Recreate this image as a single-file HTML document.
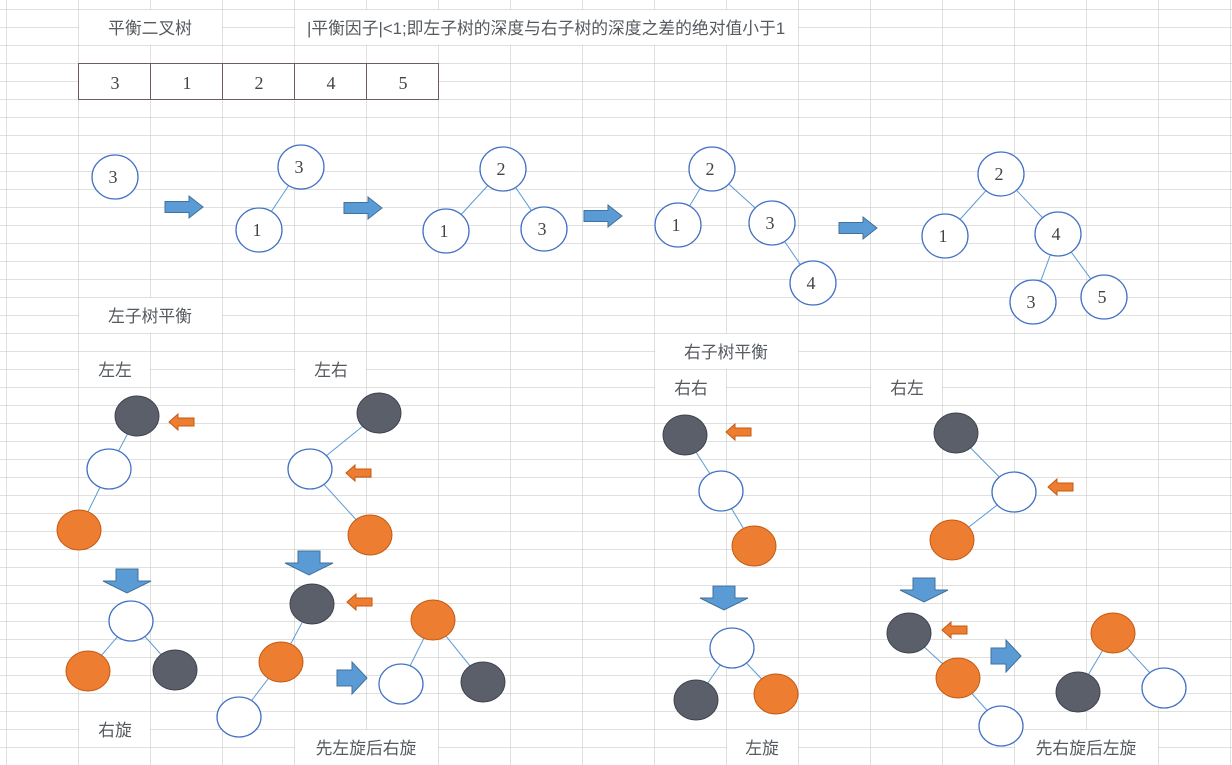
<!DOCTYPE html>
<html><head><meta charset="utf-8"><style>
html,body{margin:0;padding:0;background:#fff;}
svg{display:block;}
text{font-family:"Liberation Sans","Noto Sans CJK SC",sans-serif;fill:#555a60;font-size:16.8px;}
.n{font-family:"Liberation Serif","Noto Serif CJK SC",serif;font-size:18px;fill:#444;}
</style></head><body>
<svg width="1232" height="765" viewBox="0 0 1232 765" xmlns="http://www.w3.org/2000/svg">
<defs>
<pattern id="g" x="6.5" y="9.5" width="72" height="18" patternUnits="userSpaceOnUse">
<path d="M0 0H72M0 0V18" stroke="#c0c0c0" stroke-width="1" fill="none"/>
</pattern>
<g id="ra"><polygon points="0,-5.5 24,-5.5 24,-11 38,0 24,11 24,5.5 0,5.5" fill="#5b9bd5" stroke="#41719c" stroke-width="1"/></g>
<g id="da"><polygon points="-11,0 11,0 11,12 24,12 0,24 -24,12 -11,12" fill="#5b9bd5" stroke="#41719c" stroke-width="1"/></g>
<g id="oa"><polygon points="0,0 9,-8 9,-4 25,-4 25,4 9,4 9,8" fill="#ed7d31" stroke="#c55a11" stroke-width="1"/></g>
</defs>
<rect width="1232" height="765" fill="url(#g)"/>
<g fill="#fff">
<rect x="79" y="10" width="143" height="35"/>
<rect x="295" y="10" width="503" height="35"/>
<rect x="79" y="298" width="143" height="35"/>
<rect x="79" y="352" width="71" height="35"/>
<rect x="295" y="352" width="71" height="35"/>
<rect x="655" y="334" width="143" height="35"/>
<rect x="655" y="370" width="71" height="35"/>
<rect x="871" y="370" width="71" height="35"/>
<rect x="79" y="712" width="71" height="35"/>
<rect x="295" y="730" width="143" height="35"/>
<rect x="727" y="730" width="71" height="35"/>
<rect x="1015" y="730" width="143" height="35"/>
</g>
<text x="150" y="34" text-anchor="middle">平衡二叉树</text>
<text x="307" y="34">|平衡因子|&lt;1;即左子树的深度与右子树的深度之差的绝对值小于1</text>
<text x="150" y="322" text-anchor="middle">左子树平衡</text>
<text x="115" y="376" text-anchor="middle">左左</text>
<text x="331" y="376" text-anchor="middle">左右</text>
<text x="726" y="358" text-anchor="middle">右子树平衡</text>
<text x="691" y="394" text-anchor="middle">右右</text>
<text x="907" y="394" text-anchor="middle">右左</text>
<text x="115" y="736" text-anchor="middle">右旋</text>
<text x="366" y="754" text-anchor="middle">先左旋后右旋</text>
<text x="762" y="754" text-anchor="middle">左旋</text>
<text x="1086" y="754" text-anchor="middle">先右旋后左旋</text>
<rect x="78.5" y="63.5" width="360" height="36" fill="#fff" stroke="#6b5e5a"/>
<path d="M150.5 63.5V99.5M222.5 63.5V99.5M294.5 63.5V99.5M366.5 63.5V99.5" stroke="#6b5e5a"/>
<text class="n" x="115" y="89" text-anchor="middle">3</text>
<text class="n" x="187" y="89" text-anchor="middle">1</text>
<text class="n" x="259" y="89" text-anchor="middle">2</text>
<text class="n" x="331" y="89" text-anchor="middle">4</text>
<text class="n" x="403" y="89" text-anchor="middle">5</text>
<g stroke="#5b9bd5" stroke-width="1">
<line x1="301" y1="167" x2="259" y2="230"/>
<line x1="503" y1="169" x2="446" y2="231"/><line x1="503" y1="169" x2="544" y2="229"/>
<line x1="712" y1="169" x2="678" y2="225"/><line x1="712" y1="169" x2="772" y2="223"/><line x1="772" y1="223" x2="813" y2="283"/>
<line x1="1001" y1="174" x2="945" y2="236"/><line x1="1001" y1="174" x2="1058" y2="234"/><line x1="1058" y1="234" x2="1033" y2="302"/><line x1="1058" y1="234" x2="1104" y2="297"/>
<line x1="137" y1="416" x2="109" y2="469"/><line x1="109" y1="469" x2="79" y2="530"/>
<line x1="131" y1="621" x2="88" y2="671"/><line x1="131" y1="621" x2="175" y2="670"/>
<line x1="379" y1="413" x2="310" y2="469"/><line x1="310" y1="469" x2="370" y2="535"/>
<line x1="312" y1="604" x2="281" y2="662"/><line x1="281" y1="662" x2="239" y2="717"/>
<line x1="433" y1="620" x2="401" y2="684"/><line x1="433" y1="620" x2="483" y2="682"/>
<line x1="685" y1="435" x2="721" y2="491"/><line x1="721" y1="491" x2="754" y2="546"/>
<line x1="732" y1="648" x2="696" y2="700"/><line x1="732" y1="648" x2="776" y2="694"/>
<line x1="956" y1="433" x2="1014" y2="492"/><line x1="1014" y1="492" x2="952" y2="540"/>
<line x1="909" y1="633" x2="958" y2="678"/><line x1="958" y1="678" x2="1001" y2="726"/>
<line x1="1113" y1="633" x2="1078" y2="692"/><line x1="1113" y1="633" x2="1164" y2="688"/>
</g>
<g fill="#fff" stroke="#4472c4" stroke-width="1.3">
<ellipse cx="115" cy="177" rx="23" ry="22"/>
<ellipse cx="301" cy="167" rx="23" ry="22"/><ellipse cx="259" cy="230" rx="23" ry="22"/>
<ellipse cx="503" cy="169" rx="23" ry="22"/><ellipse cx="446" cy="231" rx="23" ry="22"/><ellipse cx="544" cy="229" rx="23" ry="22"/>
<ellipse cx="712" cy="169" rx="23" ry="22"/><ellipse cx="678" cy="225" rx="23" ry="22"/><ellipse cx="772" cy="223" rx="23" ry="22"/><ellipse cx="813" cy="283" rx="23" ry="22"/>
<ellipse cx="1001" cy="174" rx="23" ry="22"/><ellipse cx="945" cy="236" rx="23" ry="22"/><ellipse cx="1058" cy="234" rx="23" ry="22"/><ellipse cx="1033" cy="302" rx="23" ry="22"/><ellipse cx="1104" cy="297" rx="23" ry="22"/>
</g>
<text class="n" x="113" y="183" text-anchor="middle">3</text>
<text class="n" x="299" y="173" text-anchor="middle">3</text><text class="n" x="257" y="236" text-anchor="middle">1</text>
<text class="n" x="501" y="175" text-anchor="middle">2</text><text class="n" x="444" y="237" text-anchor="middle">1</text><text class="n" x="542" y="235" text-anchor="middle">3</text>
<text class="n" x="710" y="175" text-anchor="middle">2</text><text class="n" x="676" y="231" text-anchor="middle">1</text><text class="n" x="770" y="229" text-anchor="middle">3</text><text class="n" x="811" y="289" text-anchor="middle">4</text>
<text class="n" x="999" y="180" text-anchor="middle">2</text><text class="n" x="943" y="242" text-anchor="middle">1</text><text class="n" x="1056" y="240" text-anchor="middle">4</text><text class="n" x="1031" y="308" text-anchor="middle">3</text><text class="n" x="1102" y="303" text-anchor="middle">5</text>
<use href="#ra" x="165" y="207"/><use href="#ra" x="344" y="208"/><use href="#ra" x="584" y="216"/><use href="#ra" x="839" y="228"/>
<g fill="#5a5f69" stroke="#3f4350" stroke-width="1">
<ellipse cx="137" cy="416" rx="22" ry="20"/><ellipse cx="175" cy="670" rx="22" ry="20"/>
<ellipse cx="379" cy="413" rx="22" ry="20"/><ellipse cx="312" cy="604" rx="22" ry="20"/><ellipse cx="483" cy="682" rx="22" ry="20"/>
<ellipse cx="685" cy="435" rx="22" ry="20"/><ellipse cx="696" cy="700" rx="22" ry="20"/>
<ellipse cx="956" cy="433" rx="22" ry="20"/><ellipse cx="909" cy="633" rx="22" ry="20"/><ellipse cx="1078" cy="692" rx="22" ry="20"/>
</g>
<g fill="#ed7d31" stroke="#c55a11" stroke-width="1">
<ellipse cx="79" cy="530" rx="22" ry="20"/><ellipse cx="88" cy="671" rx="22" ry="20"/>
<ellipse cx="370" cy="535" rx="22" ry="20"/><ellipse cx="281" cy="662" rx="22" ry="20"/><ellipse cx="433" cy="620" rx="22" ry="20"/>
<ellipse cx="754" cy="546" rx="22" ry="20"/><ellipse cx="776" cy="694" rx="22" ry="20"/>
<ellipse cx="952" cy="540" rx="22" ry="20"/><ellipse cx="958" cy="678" rx="22" ry="20"/><ellipse cx="1113" cy="633" rx="22" ry="20"/>
</g>
<g fill="#fff" stroke="#4472c4" stroke-width="1.3">
<ellipse cx="109" cy="469" rx="22" ry="20"/><ellipse cx="131" cy="621" rx="22" ry="20"/>
<ellipse cx="310" cy="469" rx="22" ry="20"/><ellipse cx="239" cy="717" rx="22" ry="20"/><ellipse cx="401" cy="684" rx="22" ry="20"/>
<ellipse cx="721" cy="491" rx="22" ry="20"/><ellipse cx="732" cy="648" rx="22" ry="20"/>
<ellipse cx="1014" cy="492" rx="22" ry="20"/><ellipse cx="1001" cy="726" rx="22" ry="20"/><ellipse cx="1164" cy="688" rx="22" ry="20"/>
</g>
<use href="#oa" x="169" y="422"/><use href="#oa" x="346" y="473"/><use href="#oa" x="347" y="602"/>
<use href="#oa" x="726" y="432"/><use href="#oa" x="1048" y="487"/><use href="#oa" x="942" y="630"/>
<use href="#da" x="127" y="569"/><use href="#da" x="309" y="551"/><use href="#da" x="724" y="586"/><use href="#da" x="924" y="578"/>
<polygon points="337,670 352,670 352,662 367,678 352,694 352,686 337,686" fill="#5b9bd5" stroke="#41719c"/>
<polygon points="991,648 1006,648 1006,640 1021,656 1006,672 1006,664 991,664" fill="#5b9bd5" stroke="#41719c"/>
</svg>
</body></html>
